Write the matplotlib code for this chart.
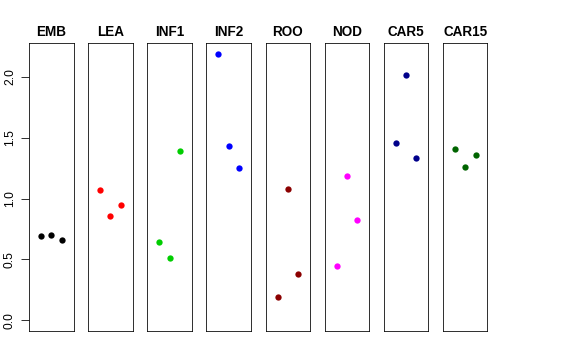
import matplotlib
matplotlib.use("Agg")
import matplotlib.pyplot as plt

groups = ["EMB", "LEA", "INF1", "INF2", "ROO", "NOD", "CAR5", "CAR15"]
colors = ["#000000", "#FF0000", "#00CD00", "#0000FF", "#8B0000", "#FF00FF", "#00008B", "#006400"]
x_pos = [1, 2, 3]
values = {
    "EMB":   [0.693, 0.699, 0.660],
    "LEA":   [1.071, 0.860, 0.945],
    "INF1":  [0.647, 0.512, 1.394],
    "INF2":  [2.189, 1.430, 1.252],
    "ROO":   [0.192, 1.082, 0.384],
    "NOD":   [0.447, 1.184, 0.825],
    "CAR5":  [1.455, 2.016, 1.337],
    "CAR15": [1.411, 1.260, 1.356],
}
y_ticks = [0.0, 0.5, 1.0, 1.5, 2.0]
y_tick_labels = ["0.0", "0.5", "1.0", "1.5", "2.0"]

plt.rcParams["font.family"] = ["Liberation Sans", "DejaVu Sans"]

W, H = 576, 360
fig = plt.figure(figsize=(W / 72, H / 72), dpi=72)

ymax = max(max(v) for v in values.values())
ypad = 0.04 * ymax
left0, pitch, pw = 29.0, 59.14, 44.5
top, bottom = 43.3, 331.0

for i, g in enumerate(groups):
    ax = fig.add_axes([(left0 + i * pitch) / W, 1 - bottom / H, pw / W, (bottom - top) / H])
    ax.plot(x_pos, values[g], "o", color=colors[i], markersize=6.3, markeredgewidth=0)
    ax.set_xlim(-0.16, 4.16)
    ax.set_ylim(-ypad, ymax + ypad)
    ax.set_xticks([])
    for s in ax.spines.values():
        s.set_linewidth(0.8)
        s.set_color("black")
    ax.set_title(g, fontsize=13.5, fontweight="bold", pad=7)
    if i == 0:
        ax.set_yticks(y_ticks)
        ax.set_yticklabels(y_tick_labels, rotation=90, va="center", fontsize=12)
        ax.tick_params(axis="y", length=8, width=0.8, pad=5)
    else:
        ax.set_yticks([])

fig.savefig("out.png", dpi=72)
